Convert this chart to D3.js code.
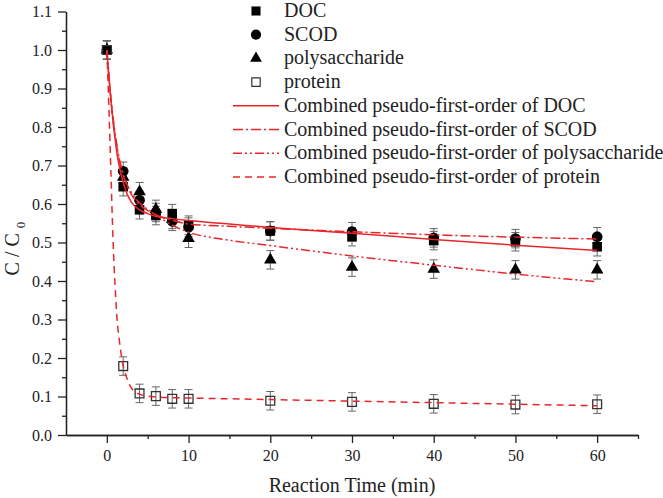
<!DOCTYPE html>
<html><head><meta charset="utf-8">
<script src="https://cdn.jsdelivr.net/npm/d3@7/dist/d3.min.js"></script>
<style>body{margin:0;background:#fff}svg{display:block}</style>
</head><body><svg id="c" width="663" height="498" font-family="Liberation Serif"></svg>
<script>
const times = [0, 2, 4, 6, 8, 10, 20, 30, 40, 50, 60];
const docVals = [1.0, 0.645, 0.585, 0.57, 0.575, 0.545, 0.53, 0.515, 0.505, 0.502, 0.489];
const scodVals = [1.0, 0.685, 0.61, 0.578, 0.555, 0.54, 0.53, 0.528, 0.512, 0.51, 0.515];
const polyVals = [1.0, 0.67, 0.632, 0.586, 0.56, 0.511, 0.455, 0.436, 0.431, 0.429, 0.429];
const protVals = [1.0, 0.179, 0.108, 0.101, 0.094, 0.094, 0.089, 0.086, 0.081, 0.079, 0.08];
const errVal = 0.024;

const fitTimes = [0, 0.25, 0.5, 0.75, 1, 1.25, 1.5, 2, 2.5, 3, 4, 5, 6, 8, 10, 15, 20, 30, 40, 50, 60];
const docFit =  [1.0, 0.93, 0.87, 0.815, 0.77, 0.73, 0.70, 0.655, 0.625, 0.605, 0.585, 0.575, 0.568, 0.562, 0.557, 0.548, 0.539, 0.524, 0.508, 0.493, 0.479];
const scodFit = [1.0, 0.93, 0.87, 0.82, 0.78, 0.745, 0.715, 0.675, 0.645, 0.625, 0.598, 0.583, 0.572, 0.558, 0.548, 0.542, 0.537, 0.528, 0.52, 0.514, 0.509];
const polyFit = [1.0, 0.935, 0.875, 0.825, 0.785, 0.75, 0.72, 0.68, 0.65, 0.63, 0.603, 0.586, 0.572, 0.545, 0.527, 0.506, 0.492, 0.465, 0.441, 0.418, 0.398];
const protFit = [1.0, 0.85, 0.68, 0.51, 0.39, 0.30, 0.25, 0.18, 0.145, 0.122, 0.106, 0.101, 0.099, 0.097, 0.096, 0.094, 0.092, 0.088, 0.084, 0.08, 0.076];

const xTicks = [0, 10, 20, 30, 40, 50, 60];
const yTicks = [0.0, 0.1, 0.2, 0.3, 0.4, 0.5, 0.6, 0.7, 0.8, 0.9, 1.0, 1.1];
const legendNames = ["DOC", "SCOD", "polysaccharide", "protein",
  "Combined pseudo-first-order of DOC", "Combined pseudo-first-order of SCOD",
  "Combined pseudo-first-order of polysaccharide", "Combined pseudo-first-order of protein"];

const FONT = "Liberation Serif";
const svg = d3.select("#c");
const x = d3.scaleLinear().domain([-5, 65]).range([66, 638]);
const y = d3.scaleLinear().domain([0, 1.1]).range([435, 11.5]);
const red = "#e8262a";
const ink = "#222";

// axes
const xAx = svg.append("g").attr("transform", "translate(0,435)")
  .call(d3.axisBottom(x).tickValues(xTicks).tickFormat(d3.format("d")).tickSize(8).tickSizeOuter(0));
const xMin = svg.append("g").attr("transform", "translate(0,435)")
  .call(d3.axisBottom(x).tickValues(d3.range(5, 66, 10)).tickFormat("").tickSize(4).tickSizeOuter(0));
const yAx = svg.append("g").attr("transform", "translate(66,0)")
  .call(d3.axisLeft(y).tickValues(yTicks).tickFormat(d3.format(".1f")).tickSize(8).tickSizeOuter(0));
const yMin = svg.append("g").attr("transform", "translate(66,0)")
  .call(d3.axisLeft(y).tickValues(d3.range(0.05, 1.1, 0.1)).tickFormat("").tickSize(4).tickSizeOuter(0));
[xAx, xMin, yAx, yMin].forEach(g => {
  g.attr("font-family", FONT).attr("font-size", 16);
  g.selectAll("path,line").attr("stroke", ink).attr("stroke-width", 1.3);
  g.selectAll("text").attr("font-family", FONT).attr("font-size", 16).attr("fill", ink);
});
xAx.selectAll("text").attr("y", 15);
yAx.selectAll("text").attr("x", -14);

svg.append("text").attr("x", x(30)).attr("y", 492).attr("text-anchor", "middle")
  .attr("font-family", FONT).attr("font-size", 20).attr("fill", ink).text("Reaction Time (min)");
const yt = svg.append("text").attr("transform", `translate(19,${y(0.5) + 6}) rotate(-90)`)
  .attr("text-anchor", "middle").attr("font-family", FONT).attr("font-size", 20).attr("fill", ink);
yt.append("tspan").attr("letter-spacing", 5).text("C/C");
yt.append("tspan").attr("dy", 6).attr("font-size", 13).text("0");

// markers
const series = [
  {vals: docVals, sym: d3.symbolSquare, size: 92, fill: "#000", stroke: "none"},
  {vals: scodVals, sym: d3.symbolCircle, size: 90, fill: "#000", stroke: "none"},
  {vals: polyVals, sym: d3.symbolTriangle, size: 68, fill: "#000", stroke: "none"},
  {vals: protVals, sym: d3.symbolSquare, size: 78, fill: "none", stroke: "#333"}
];
const eb = svg.append("g").attr("stroke", "#666").attr("stroke-width", 1);
series.forEach(s => {
  s.vals.forEach((v, i) => {
    const cx = x(times[i]);
    eb.append("line").attr("x1", cx).attr("x2", cx).attr("y1", y(v - errVal)).attr("y2", y(v + errVal));
    eb.append("line").attr("x1", cx - 4).attr("x2", cx + 4).attr("y1", y(v - errVal)).attr("y2", y(v - errVal));
    eb.append("line").attr("x1", cx - 4).attr("x2", cx + 4).attr("y1", y(v + errVal)).attr("y2", y(v + errVal));
  });
});
series.forEach(s => {
  svg.append("g").selectAll("path").data(s.vals).join("path")
    .attr("transform", (d, i) => `translate(${x(times[i])},${y(d)})`)
    .attr("d", d3.symbol().type(s.sym).size(s.size))
    .attr("fill", s.fill).attr("stroke", s.stroke).attr("stroke-width", 1.3);
});

// fit lines
const fits = [
  {vals: docFit, dash: null},
  {vals: scodFit, dash: "10,3,2,3"},
  {vals: polyFit, dash: "9,3,2,3,2,3"},
  {vals: protFit, dash: "7,5"}
];
const line = d3.line().x(d => x(d[0])).y(d => y(d[1])).curve(d3.curveMonotoneX);
fits.forEach(f => {
  svg.append("path").datum(fitTimes.map((t, i) => [t, f.vals[i]]))
    .attr("d", line).attr("fill", "none").attr("stroke", red).attr("stroke-width", 1.5)
    .attr("stroke-dasharray", f.dash);
});

// legend
const lg = svg.append("g");
legendNames.forEach((name, i) => {
  const base = 17 + i * 23.7;
  const cy = base - 6;
  if (i < 4) {
    const s = series[i];
    lg.append("path").attr("transform", `translate(256,${cy})`)
      .attr("d", d3.symbol().type(s.sym).size(s.size * 0.9))
      .attr("fill", s.fill).attr("stroke", s.stroke).attr("stroke-width", 1.2);
  } else {
    lg.append("line").attr("x1", 233).attr("x2", 279).attr("y1", cy).attr("y2", cy)
      .attr("stroke", red).attr("stroke-width", 1.5).attr("stroke-dasharray", fits[i - 4].dash);
  }
  lg.append("text").attr("x", 284).attr("y", base)
    .attr("font-family", FONT).attr("font-size", 20).attr("fill", ink).text(name);
});
</script></body></html>
